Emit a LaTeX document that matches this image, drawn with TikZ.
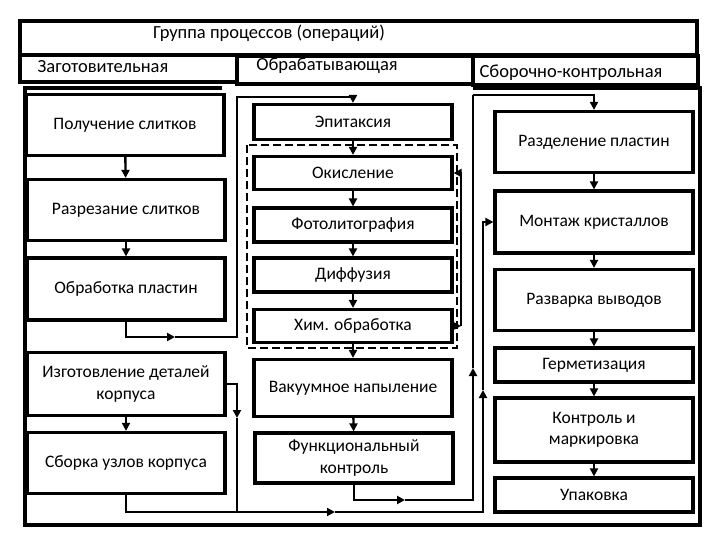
\documentclass[tikz,border=0pt]{standalone}
\usepackage{fontspec}
\setmainfont{Carlito}
\usetikzlibrary{arrows.meta}

\begin{document}
\begin{tikzpicture}[x=1pt,y=-1pt]
  \tikzstyle{box} = [draw, line width=3.2pt, minimum width=198pt, inner sep=2pt, align=center, font=\fontsize{17.5}{21.5}\selectfont]
  \tikzstyle{head} = [inner sep=0pt, font=\fontsize{18.5}{20}\selectfont]
  \tikzstyle{frame} = [line width=3.2pt]
  \tikzstyle{link} = [line width=2.4pt]
  \tikzstyle{conn} = [line width=2.4pt, -{Triangle[length=8pt,width=8pt]}]

  \fill[white] (0,0) rectangle (720,540);

  % header
  \draw[frame] (20,21) rectangle (697,55);
  \node[head] (title) at (269,33) {Группа процессов (операций)};
  \draw[frame] (20,55) rectangle (237,82);
  \node[head] (zag) at (103,67) {Заготовительная};
  \draw[frame] (237,56) rectangle (473,84);
  \node[head] (obr) at (327,66) {Обрабатывающая};
  \draw[frame] (473,56) rectangle (698,85);
  \node[head] (sbk) at (571,73) {Сборочно-контрольная};
  \draw[frame] (222,88) -- (25,88) -- (25,525) -- (700,525) -- (700,88) -- (473,88);

  % left column
  \node[box, minimum height=61pt] (pol) at (125,125) {Получение слитков};
  \node[box, minimum height=61pt] (raz) at (126,210) {Разрезание слитков};
  \node[box, minimum height=62pt] (obp) at (126,289) {Обработка пластин};
  \node[box, minimum height=63pt] (izg) at (126,384) {Изготовление деталей\\корпуса};
  \node[box, minimum height=61pt] (sbu) at (126,463) {Сборка узлов корпуса};

  % middle column
  \draw[line width=2pt, dash pattern=on 8pt off 4pt] (247,145) rectangle (457,348);
  \node[box, minimum height=35pt] (epi) at (353,122) {Эпитаксия};
  \node[box, minimum height=33pt] (oki) at (353,173) {Окисление};
  \node[box, minimum height=34pt] (fot) at (353,225) {Фотолитография};
  \node[box, minimum height=34pt] (dif) at (353,275) {Диффузия};
  \node[box, minimum height=33pt] (him) at (353,326) {Хим. обработка};
  \node[box, minimum height=57pt] (vak) at (353,388) {Вакуумное напыление};
  \node[box, minimum height=50pt] (fun) at (354,458) {Функциональный\\контроль};

  % right column
  \node[box, minimum height=61pt] (rzd) at (594,142) {Разделение пластин};
  \node[box, minimum height=62pt] (mon) at (594,222) {Монтаж кристаллов};
  \node[box, minimum height=61pt] (rzv) at (594,300) {Разварка выводов};
  \node[box, minimum height=34pt] (ger) at (594,365) {Герметизация};
  \node[box, minimum height=64pt] (kon) at (594,430) {Контроль и\\маркировка};
  \node[box, minimum height=34pt] (upa) at (594,495) {Упаковка};

  % bend points
  \coordinate (p1) at (175,337);
  \coordinate (p2) at (237,97);
  \coordinate (l1) at (461,326);
  \coordinate (f1) at (405,500);
  \coordinate (f2) at (473,368);
  \coordinate (f3) at (473,95);
  \coordinate (i1) at (237,418);
  \coordinate (i2) at (237,512);
  \coordinate (s1) at (335,512);
  \coordinate (s2) at (483,390);

  % connectors
  \draw[conn] (pol) -- (raz);
  \draw[conn] (raz) -- (obp);
  \draw[conn] (izg) -- (sbu);
  \draw[conn] (obp.south) |- (p1);
  \draw[conn] (p1) -| (p2) -| (epi.north);

  \draw[conn] (epi) -- (oki);
  \draw[conn] (oki) -- (fot);
  \draw[conn] (fot) -- (dif);
  \draw[conn] (dif) -- (him);
  \draw[conn] (him) -- (vak);
  \draw[conn] (vak) -- (fun);
  \draw[conn] (him.east) -- (l1);
  \draw[conn] (l1) |- (oki.east);

  \draw[conn] (fun.south) |- (f1);
  \draw[conn] (f1) -| (f2);
  \draw[link] (f2) -- (f3);
  \draw[conn] (f3) -| (rzd.north);

  \draw[conn] (izg.east) -| (i1);
  \draw[link] (i1) -- (i2);
  \draw[conn] (sbu.south) |- (s1);
  \draw[conn] (s1) -| (s2);
  \draw[conn] (s2) |- (mon.west);

  \draw[conn] (rzd) -- (mon);
  \draw[conn] (mon) -- (rzv);
  \draw[conn] (rzv) -- (ger);
  \draw[conn] (ger) -- (kon);
  \draw[conn] (kon) -- (upa);
\end{tikzpicture}
\end{document}
